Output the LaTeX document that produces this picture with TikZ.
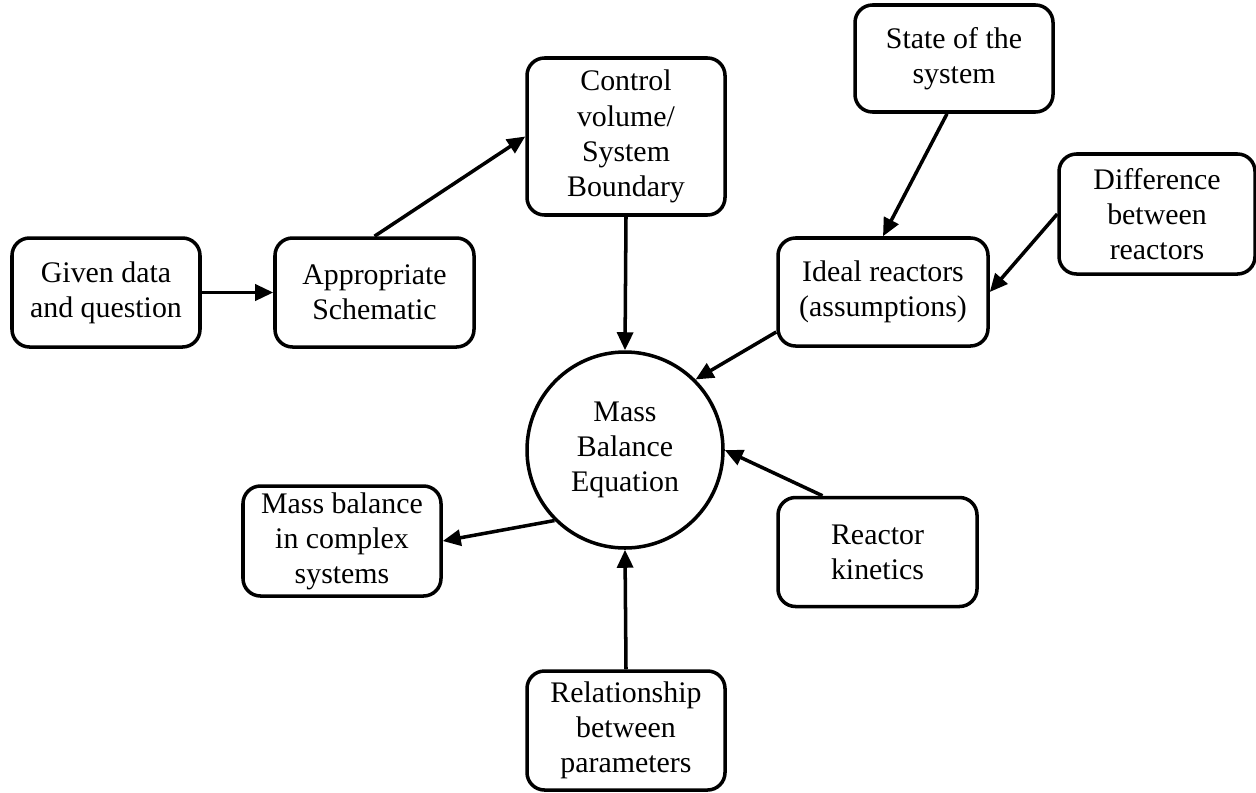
\documentclass[tikz,border=0pt]{standalone}
\usepackage{fontspec}
\setmainfont{Liberation Serif}
\usetikzlibrary{arrows.meta}

\begin{document}
\begin{tikzpicture}[font=\fontsize{17}{20}\selectfont, >={Triangle[length=0.36cm, width=0.32cm]}, line width=2pt,
        blk/.style={draw, rounded corners=0.35cm, minimum width=3.96cm, minimum height=2.18cm, align=center, inner sep=0pt}]
        \useasboundingbox (0,0) rectangle (25.12,-15.84);

        \node[blk, minimum width=3.76cm] (given) at (2.12,-5.85) {Given data\\and question};
        \node[blk, minimum width=3.98cm] (approp) at (7.49,-5.85) {Appropriate\\Schematic};
        \node[blk, minimum height=3.14cm] (ctrl) at (12.52,-2.73) {Control\\volume/\\System\\Boundary};
        \node[blk, minimum height=2.14cm] (state) at (19.08,-1.17) {State of the\\system};
        \node[blk, minimum width=3.92cm, minimum height=2.40cm] (diff) at (23.14,-4.28) {Difference\\between\\reactors};
        \node[blk, minimum width=4.20cm, minimum height=2.16cm] (ideal) at (17.66,-5.84) {Ideal reactors\\(assumptions)};
        \node[draw, circle, minimum size=3.92cm, align=center, inner sep=0pt] (mbe) at (12.50,-9.00) {Mass\\Balance\\Equation};
        \node[blk, minimum height=2.20cm] (complex) at (6.84,-10.82) {Mass balance\\in complex\\systems};
        \node[blk, minimum width=3.98cm] (kinetics) at (17.55,-11.04) {Reactor\\kinetics};
        \node[blk, minimum height=2.38cm] (relation) at (12.52,-14.61) {Relationship\\between\\parameters};

        \draw[->] (given) -- (approp);
        \draw[->] (approp.north) -- (ctrl.west);
        \draw[->] (ctrl.south) -- (mbe.north);
        \draw[->] ([xshift=-0.14cm]state.south) -- (ideal.north);
        \draw[->] (diff.west) -- (ideal.east);
        \draw[->] ([yshift=-0.8cm]ideal.west) -- (mbe.45);
        \draw[->] ([xshift=-1.1cm]kinetics.north) -- (mbe.east);
        \draw[->] (relation.north) -- (mbe.south);
        \draw[->] (mbe.225) -- (complex.east);
\end{tikzpicture}
\end{document}
